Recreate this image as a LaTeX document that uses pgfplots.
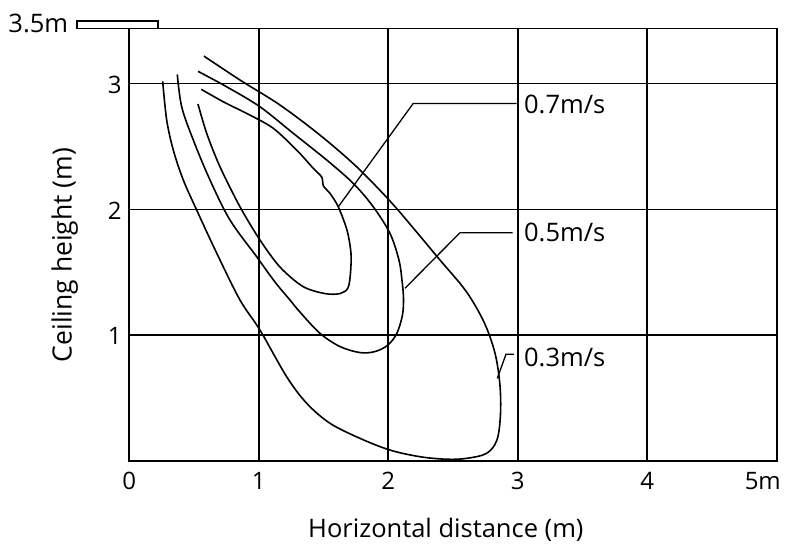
\documentclass[border=0pt]{standalone}
\usepackage{pgfplots}
\pgfplotsset{compat=1.18}
\usepackage{fontspec}
\setmainfont{Open Sans}

\pgfplotstableread{
x y
0.2579 3.018
0.2888 2.711
0.3398 2.472
0.4170 2.234
0.5205 1.995
0.6749 1.653
0.8548 1.280
1.0093 1.041
1.2154 0.670
1.3699 0.459
1.5498 0.300
1.7815 0.180
2.0131 0.087
2.2448 0.034
2.4510 0.014
2.6054 0.021
2.7598 0.061
2.8394 0.167
2.8664 0.366
2.8625 0.604
2.8239 0.859
2.7390 1.105
2.6000 1.351
2.3992 1.598
2.2062 1.836
2.0131 2.067
1.7560 2.339
1.4726 2.591
1.1637 2.830
0.8548 3.029
0.5768 3.219
}\curvethree

\pgfplotstableread{
x y
0.3707 3.074
0.4046 2.816
0.4942 2.552
0.6232 2.234
0.7776 1.916
0.9838 1.624
1.1251 1.423
1.2409 1.280
1.3181 1.184
1.4726 1.015
1.6270 0.910
1.7815 0.862
1.8973 0.870
1.9977 0.922
2.0672 1.017
2.1097 1.161
2.1174 1.296
2.1058 1.439
2.0826 1.598
2.0131 1.810
1.8842 2.021
1.7297 2.207
1.5243 2.393
1.2664 2.605
1.0093 2.816
0.7521 2.975
0.5305 3.098
}\curvefive

\pgfplotstableread{
x y
0.5305 2.838
0.5977 2.605
0.7004 2.339
0.8548 2.021
1.0093 1.757
1.1637 1.542
1.3413 1.387
1.5112 1.331
1.6270 1.331
1.6888 1.375
1.7081 1.494
1.7120 1.653
1.6811 1.836
1.6139 2.021
1.5498 2.128
1.4996 2.186
1.4857 2.258
1.4208 2.327
1.2927 2.472
1.1120 2.645
0.9320 2.750
0.7259 2.856
0.5560 2.955
}\curveseven

\newcommand\bigf{\fontsize{25.5}{30}\selectfont}
\newcommand\ylabf{\fontsize{26.5}{31}\selectfont}
\newcommand\tickf{\fontsize{24}{28}\selectfont}

\begin{document}
\bigf
\begin{tikzpicture}[font=\bigf]
\useasboundingbox (-129.3pt,-87pt) rectangle (656.7pt,461pt);
\begin{axis}[
  at={(0,0)}, anchor=south west,
  scale only axis,
  width=647.4pt, height=432.3pt,
  xmin=0, xmax=5, ymin=0, ymax=3.437,
  xtick={0,1,2,3,4,5}, xticklabels={0,1,2,3,4,{}},
  ytick={1,2,3}, yticklabels={1,2,3},
  grid=major,
  major grid style={black, line width=1.6pt},
  axis line style={black, line width=1.6pt},
  major tick length=0pt,
  clip=false,
  tick label style={font=\tickf},
  xticklabel style={anchor=base, inner sep=0pt, yshift=-29pt},
  yticklabel style={anchor=east, inner sep=0pt, xshift=-7.6pt, yshift=-1.2pt},
  xlabel={Horizontal distance (m)},
  ylabel={Ceiling height (m)},
  every axis x label/.style={at={(axis description cs:0.489,-0.1761)}, anchor=base, inner sep=0pt, font=\bigf},
  every axis y label/.style={at={(axis description cs:-0.089,0.4765)}, rotate=90, anchor=base, inner sep=0pt, font=\ylabf},
]
\addplot[black, line width=1.6pt, smooth, tension=0.55] table {\curvethree};
\addplot[black, line width=1.6pt, smooth, tension=0.55] table {\curvefive};
\addplot[black, line width=1.6pt, smooth, tension=0.5] table {\curveseven};

% leader lines
\addplot[black, line width=1.3pt, sharp plot] coordinates {(1.614,2.021) (2.193,2.843) (2.992,2.843)};
\addplot[black, line width=1.3pt, sharp plot] coordinates {(2.129,1.373) (2.554,1.815) (2.961,1.815)};
\addplot[black, line width=1.3pt, sharp plot] coordinates {(2.842,0.657) (2.909,0.848) (2.971,0.848)};

% ceiling outlet
\addplot[black, line width=1.5pt, sharp plot] coordinates {(-0.404,3.437) (-0.404,3.497) (0.222,3.497) (0.222,3.437) (-0.404,3.437)};

\node[anchor=base west, inner sep=0pt] at (axis cs:3.048,2.764) {0.7m/s};
\node[anchor=base west, inner sep=0pt] at (axis cs:3.048,1.743) {0.5m/s};
\node[anchor=base west, inner sep=0pt] at (axis cs:3.048,0.755) {0.3m/s};
\node[anchor=base east, inner sep=0pt] at (axis cs:-0.471,3.408) {3.5m};
\node[anchor=base east, inner sep=0pt, xshift=4.3pt, yshift=-29pt, font=\tickf] at (axis cs:5,0) {5m};
\end{axis}
\end{tikzpicture}
\end{document}
